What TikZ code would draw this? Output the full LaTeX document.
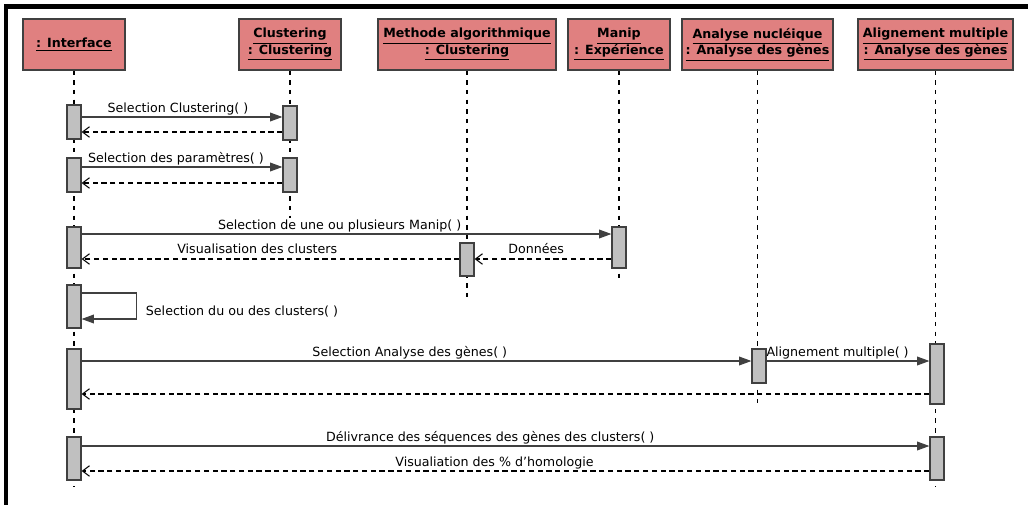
\documentclass[tikz,border=0pt]{standalone}
\usepackage{fontspec}
\setmainfont{DejaVu Sans}
\usetikzlibrary{arrows.meta}
\definecolor{cus-rose}{RGB}{224,128,128}
\definecolor{cus-grey}{RGB}{192,192,192}
\definecolor{cus-dark}{RGB}{64,64,64}

\begin{document}
\begin{tikzpicture}[x=0.02cm, y=-0.02cm,
	obj/.style={draw=cus-dark, line width=0.7pt, fill=cus-rose, inner sep=0pt, minimum height=1.02cm, align=center, font=\fontsize{7.2}{9.6}\selectfont\bfseries},
	act/.style={draw=cus-dark, line width=0.7pt, fill=cus-grey, inner sep=0pt, minimum width=0.28cm},
	life/.style={line width=0.6pt, dash pattern=on 2.5pt off 3pt},
	call/.style={line width=0.6pt, draw=cus-dark, -{Triangle[length=7pt,width=5pt]}},
	reply/.style={line width=0.6pt, dash pattern=on 3pt off 2pt, -{Straight Barb[length=4pt,width=6pt]}},
	msg/.style={font=\fontsize{7.2}{8}\selectfont, inner sep=1pt}]
\useasboundingbox (0,0) rectangle (1028,504);
\draw [line width=2.3pt] (6,6.5) rectangle (1040,520);

% objets
\node [obj, minimum width=2.04cm] (h1) at (74,44.5) {\underline{: Interface}};
\node [obj, minimum width=2.04cm] (h2) at (290,44.5) {\underline{Clustering}\\\underline{: Clustering}};
\node [obj, minimum width=3.56cm] (h3) at (467,44.5) {\underline{Methode algorithmique}\\\underline{: Clustering}};
\node [obj, minimum width=2.04cm] (h4) at (619,44.5) {\underline{Manip}\\\underline{: Expérience}};
\node [obj, minimum width=3.02cm] (h5) at (757.5,44.5) {\underline{Analyse nucléique}\\\underline{: Analyse des gènes}};
\node [obj, minimum width=3.1cm] (h6) at (935.5,44.5) {\underline{Alignement multiple}\\\underline{: Analyse des gènes}};

% lignes de vie
\foreach \h/\e in {h1/487,h2/218,h3/297,h4/282,h5/403,h6/487}{
	\coordinate (\h-end) at (0,\e);
	\draw [life] (\h.south) -- (\h.south |- \h-end);
}

% activations
\foreach \n/\x/\t/\b in {i1/74/105/139, c1/290/106/140, i2/74/158/192, c2/290/158/192,
	i3/74/227/268, p1/619/227/268, m1/467/243/276, i4/74/285/328,
	i5/74/349/409, n1/759/349/383, a1/937/344/404, i6/74/437/480, a2/937/437/480}{
	\node [act, minimum height={(\b-\t)*0.02cm}] (\n) at (\x,{(\t+\b)/2}) {};
}

% messages
\foreach \r/\y in {y1/117,y2/132,y3/167,y4/183,y5/234,y6/259,s1/293,s2/319,y8/361,y9/394,y10/446,y11/471}{
	\coordinate (\r) at (0,\y);
}
\draw [call] (i1.east |- y1) -- (c1.west |- y1) node [msg, pos=0.48, above] {Selection Clustering( )};
\draw [reply] (c1.west |- y2) -- (i1.east |- y2);
\draw [call] (i2.east |- y3) -- (c2.west |- y3) node [msg, pos=0.47, above] {Selection des paramètres( )};
\draw [reply] (c2.west |- y4) -- (i2.east |- y4);
\draw [call] (i3.east |- y5) -- (p1.west |- y5) node [msg, pos=0.487, above] {Selection de une ou plusieurs Manip( )};
\draw [reply] (p1.west |- y6) -- (m1.east |- y6) node [msg, pos=0.55, above=2pt] {Données};
\draw [reply] (m1.west |- y6) -- (i3.east |- y6) node [msg, pos=0.535, above=2pt] {Visualisation des clusters};
\draw [call] (i4.east |- s1) -- ++(55,0) |- (i4.east |- s2) node [msg, pos=0.35, right=4pt] {Selection du ou des clusters( )};
\draw [call] (i5.east |- y8) -- (n1.west |- y8) node [msg, pos=0.49, above] {Selection Analyse des gènes( )};
\draw [call] (n1.east |- y8) -- (a1.west |- y8) node [msg, pos=0.436, above=0pt] {Alignement multiple( )};
\draw [reply] (a1.west |- y9) -- (i5.east |- y9);
\draw [call] (i6.east |- y10) -- (a2.west |- y10) node [msg, pos=0.482, above] {Délivrance des séquences des gènes des clusters( )};
\draw [reply] (a2.west |- y11) -- (i6.east |- y11) node [msg, pos=0.513, above] {Visualiation des \% d'homologie};
\end{tikzpicture}
\end{document}
